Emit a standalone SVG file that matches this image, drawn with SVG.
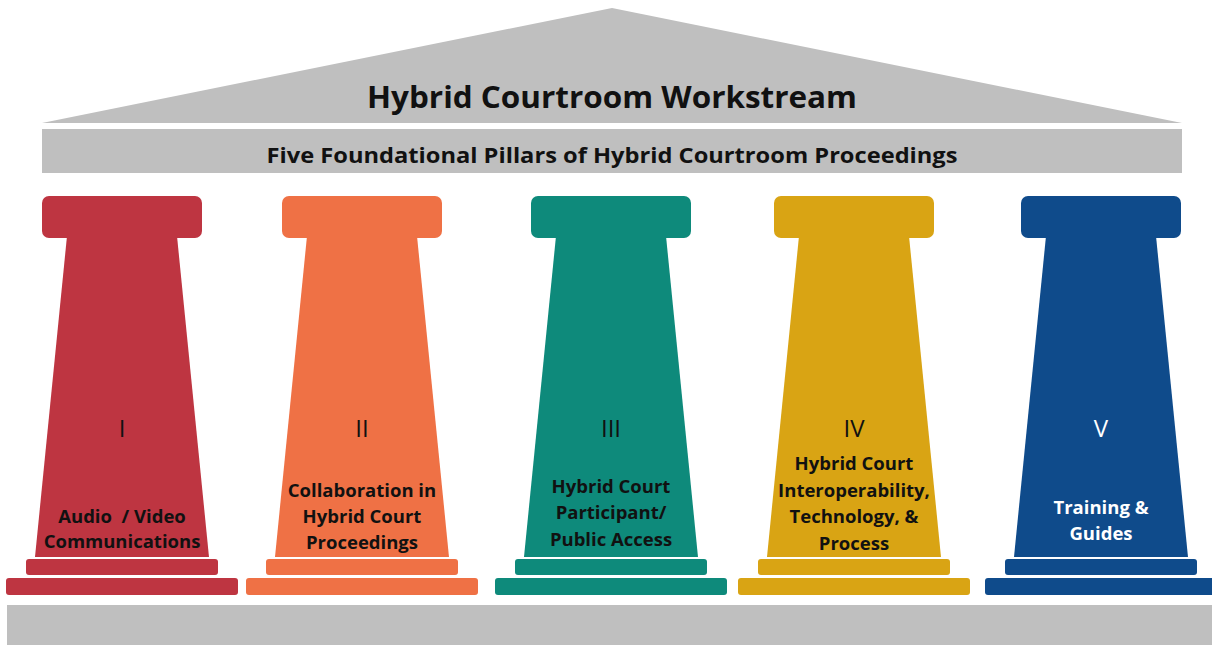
<svg xmlns="http://www.w3.org/2000/svg" width="1212" height="645" viewBox="0 0 1212 645">
<defs>
<style>
.gray{fill:#BFBFBF}
.t{font-family:"Open Sans","Liberation Sans",sans-serif;text-anchor:middle;fill:#111}
.lbl{font-size:18.5px;font-weight:700}
.num{font-size:24px;font-weight:400}
.w{fill:#fff}
</style>
<g id="pillar">
<rect x="-80" y="196" width="160" height="42" rx="7"/>
<polygon points="-55,236 55,236 87,557 -87,557"/>
<rect x="-96" y="559" width="192" height="16" rx="3"/>
<rect x="-116" y="578" width="232" height="17" rx="3"/>
</g>
</defs>
<rect width="1212" height="645" fill="#fff"/>
<g id="roof">
<polygon class="gray" points="612,8 1182,123 42,123"/>
<text class="t" x="612" y="108" font-size="31" font-weight="700" textLength="490" lengthAdjust="spacingAndGlyphs">Hybrid Courtroom Workstream</text>
</g>
<g id="band">
<rect class="gray" x="42" y="129" width="1140" height="44"/>
<text class="t" x="612" y="163" font-size="22" font-weight="700" textLength="691" lengthAdjust="spacingAndGlyphs">Five Foundational Pillars of Hybrid Courtroom Proceedings</text>
</g>
<g id="ground">
<rect class="gray" x="7" y="605" width="1205" height="40"/>
</g>
<g id="pillar1">
<use href="#pillar" x="122" fill="#BE3541"/>
<text class="t num" x="122" y="437">I</text>
<text class="t lbl" x="122" y="523" xml:space="preserve">Audio  / Video</text>
<text class="t lbl" x="122" y="548">Communications</text>
</g>
<g id="pillar2">
<use href="#pillar" x="362" fill="#EF7145"/>
<text class="t num" x="362" y="437">II</text>
<text class="t lbl" x="362" y="497">Collaboration in</text>
<text class="t lbl" x="362" y="523">Hybrid Court</text>
<text class="t lbl" x="362" y="549">Proceedings</text>
</g>
<g id="pillar3">
<use href="#pillar" x="611" fill="#0E8A7B"/>
<text class="t num" x="611" y="437">III</text>
<text class="t lbl" x="611" y="493">Hybrid Court</text>
<text class="t lbl" x="611" y="519">Participant/</text>
<text class="t lbl" x="611" y="546">Public Access</text>
</g>
<g id="pillar4">
<use href="#pillar" x="854" fill="#D9A414"/>
<text class="t num" x="854" y="437">IV</text>
<text class="t lbl" x="854" y="470">Hybrid Court</text>
<text class="t lbl" x="854" y="497">Interoperability,</text>
<text class="t lbl" x="854" y="523">Technology, &amp;</text>
<text class="t lbl" x="854" y="550">Process</text>
</g>
<g id="pillar5">
<use href="#pillar" x="1101" fill="#0F4B8B"/>
<text class="t num w" x="1101" y="437">V</text>
<text class="t lbl w" x="1101" y="514">Training &amp;</text>
<text class="t lbl w" x="1101" y="540">Guides</text>
</g>
</svg>
